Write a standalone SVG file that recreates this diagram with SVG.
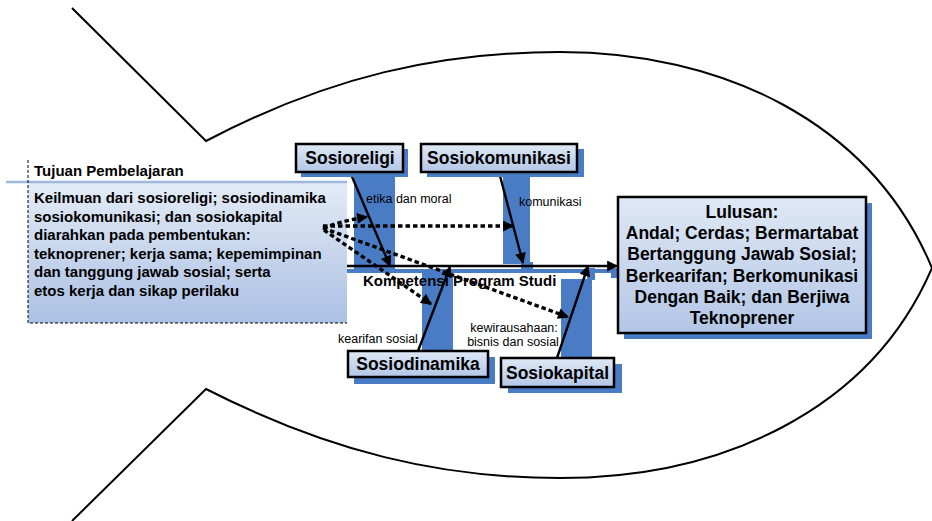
<svg xmlns="http://www.w3.org/2000/svg" width="932" height="521" viewBox="0 0 932 521">
<defs>
<linearGradient id="gBox" x1="0" y1="0" x2="0" y2="1">
<stop offset="0" stop-color="#dfe8f5"/>
<stop offset="1" stop-color="#b3c6e6"/>
</linearGradient>
<linearGradient id="gTuj" x1="0" y1="0" x2="0" y2="1">
<stop offset="0" stop-color="#e3ebf6"/>
<stop offset="1" stop-color="#abc0e3"/>
</linearGradient>
<marker id="ah" viewBox="0 0 10 10" refX="9" refY="5" markerWidth="13" markerHeight="11" markerUnits="userSpaceOnUse" orient="auto">
<path d="M0,0 L10,5 L0,10 z" fill="#000"/>
</marker>
</defs>
<style>
.fish{fill:none;stroke:#000;stroke-width:2}
.sh{fill:#4a7cc6}
.box{fill:url(#gBox);stroke:#000;stroke-width:2.5}
.lbl{font-family:"Liberation Sans",Arial,sans-serif;font-weight:bold;font-size:17.5px;fill:#000;text-anchor:middle}
.lul{font-family:"Liberation Sans",Arial,sans-serif;font-weight:bold;font-size:17.5px;fill:#000;text-anchor:middle}
.tj{font-family:"Liberation Sans",Arial,sans-serif;font-weight:bold;font-size:15px;fill:#000}
.sm{font-family:"Liberation Sans",Arial,sans-serif;font-size:12.5px;fill:#000}
.solid{fill:none;stroke:#000;stroke-width:2.4}
.dash{fill:none;stroke:#000;stroke-width:3.4;stroke-dasharray:4.5 3}
</style>

<g id="fish">
<path class="fish" d="M72,8 L206,141 C330,76 440,52 560,52 C720,52 870,120 932,268 C870,412 720,478 560,478 C440,478 330,452 206,389 L72,521"/>
</g>

<g id="tujuan">
<rect x="28" y="183" width="319" height="140" fill="url(#gTuj)"/>
<line x1="6" y1="182" x2="347" y2="182" stroke="#9fb6dd" stroke-width="2.5"/>
<path d="M28,160 L28,323 L347,323" fill="none" stroke="#000" stroke-width="1" stroke-dasharray="3 2"/>
<text class="tj" x="34" y="176">Tujuan Pembelajaran</text>
<text class="tj" x="34" y="203">Keilmuan dari sosioreligi; sosiodinamika</text>
<text class="tj" x="34" y="222">sosiokomunikasi; dan sosiokapital</text>
<text class="tj" x="34" y="240">diarahkan pada pembentukan:</text>
<text class="tj" x="34" y="259">teknoprener; kerja sama; kepemimpinan</text>
<text class="tj" x="34" y="277">dan tanggung jawab sosial; serta</text>
<text class="tj" x="34" y="296">etos kerja dan sikap perilaku</text>
</g>

<g id="shadows">
<rect class="sh" x="354" y="172" width="41" height="100"/>
<rect class="sh" x="503" y="172" width="27" height="92"/>
<rect class="sh" x="521" y="262" width="12" height="8"/>
<rect class="sh" x="422" y="270" width="31" height="82"/>
<rect class="sh" x="561" y="279" width="31" height="80"/>
<rect class="sh" x="587" y="268" width="8" height="12"/>
<rect class="sh" x="347" y="269" width="266" height="4"/>
<rect class="sh" x="611" y="268" width="8" height="10"/>
</g>

<g id="labels">
<text class="sm" x="366" y="203">etika dan moral</text>
<text class="sm" x="519" y="206">komunikasi</text>
<text class="sm" x="338" y="343">kearifan sosial</text>
<text class="sm" x="514" y="332" text-anchor="middle">kewirausahaan:</text>
<text class="sm" x="513" y="346" text-anchor="middle">bisnis dan sosial</text>
<text class="tj" x="363" y="286">Kompetensi Program Studi</text>
</g>

<g id="connectors">
<line class="solid" x1="347" y1="266" x2="617" y2="266" marker-end="url(#ah)"/>
<line class="solid" x1="350" y1="172" x2="390" y2="266" marker-end="url(#ah)"/>
<line class="solid" x1="499" y1="172" x2="523" y2="263" marker-end="url(#ah)"/>
<line class="solid" x1="418" y1="351" x2="450" y2="267" marker-end="url(#ah)"/>
<line class="solid" x1="557" y1="358" x2="588" y2="266" marker-end="url(#ah)"/>
<path class="dash" d="M323,228 Q345,220 367,217" marker-end="url(#ah)"/>
<path class="dash" d="M323,226 L513,226" marker-end="url(#ah)"/>
<path class="dash" d="M323,228 L568,317" marker-end="url(#ah)"/>
<path class="dash" d="M324,230 L431,304" marker-end="url(#ah)"/>
</g>

<g id="sosioreligi">
<rect class="sh" x="301" y="149" width="107" height="28"/>
<rect class="box" x="296" y="144" width="107" height="28"/>
<text class="lbl" x="350" y="164">Sosioreligi</text>
</g>

<g id="sosiokomunikasi">
<rect class="sh" x="427" y="149" width="157" height="28"/>
<rect class="box" x="421" y="144" width="156" height="28"/>
<text class="lbl" x="499" y="164">Sosiokomunikasi</text>
</g>

<g id="sosiodinamika">
<rect class="sh" x="354" y="357" width="141" height="27"/>
<rect class="box" x="348" y="351" width="140" height="26"/>
<text class="lbl" x="418" y="370">Sosiodinamika</text>
</g>

<g id="sosiokapital">
<rect class="sh" x="508" y="364" width="114" height="29"/>
<rect class="box" x="501" y="358" width="113" height="29"/>
<text class="lbl" x="557.5" y="379">Sosiokapital</text>
</g>

<g id="lulusan">
<rect class="sh" x="624" y="203" width="248" height="136"/>
<rect class="box" x="618" y="197" width="248" height="136"/>
<text class="lul" x="742" y="218">Lulusan:</text>
<text class="lul" x="742" y="239">Andal; Cerdas; Bermartabat</text>
<text class="lul" x="742" y="260">Bertanggung Jawab Sosial;</text>
<text class="lul" x="742" y="282">Berkearifan; Berkomunikasi</text>
<text class="lul" x="742" y="303">Dengan Baik; dan Berjiwa</text>
<text class="lul" x="742" y="324">Teknoprener</text>
</g>
</svg>
